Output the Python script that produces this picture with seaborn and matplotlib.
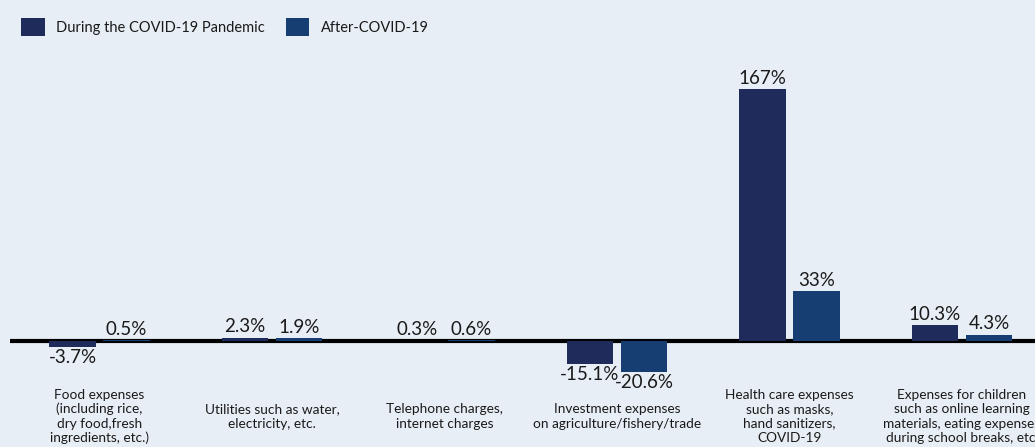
import matplotlib
matplotlib.use("Agg")
import matplotlib.pyplot as plt
from matplotlib.patches import Patch
from matplotlib.transforms import blended_transform_factory
import seaborn as sns
import pandas as pd

# Expense categories (x axis)
categories = [
    "Food expenses\n(including rice,\ndry food,fresh\ningredients, etc.)",
    "Utilities such as water,\nelectricity, etc.",
    "Telephone charges,\ninternet charges",
    "Investment expenses\non agriculture/fishery/trade",
    "Health care expenses\nsuch as masks,\nhand sanitizers,\nCOVID-19",
    "Expenses for children\nsuch as online learning\nmaterials, eating expenses\nduring school breaks, etc.",
]
# Percentage change in expenses
during_covid = [-3.7, 2.3, 0.3, -15.1, 167, 10.3]
after_covid = [0.5, 1.9, 0.6, -20.6, 33, 4.3]
series_names = ["During the COVID-19 Pandemic", "After-COVID-19"]

BG = "#e8eef6"
COLORS = ["#1e2b5b", "#173e72"]
TEXT = "#1a1a1a"

df = pd.DataFrame({
    "category": categories * 2,
    "value": during_covid + after_covid,
    "period": [series_names[0]] * len(categories) + [series_names[1]] * len(categories),
})

sns.set_theme(style="white")
plt.rcParams["font.family"] = ["Lato", "DejaVu Sans"]

fig = plt.figure(figsize=(10.35, 4.47), dpi=100, facecolor=BG)
W, H = 1035, 447
zero_px, top_px = 341, 89
ymin, ymax = -25, 180
ppu = (zero_px - top_px) / max(during_covid)
ax_top = zero_px - ymax * ppu
ax_bot = zero_px - ymin * ppu
ax = fig.add_axes([10 / W, 1 - ax_bot / H, 1 - 10 / W, (ax_bot - ax_top) / H])
ax.set_facecolor(BG)

# zero baseline sits beneath the bars
ax.axhline(0, color="black", linewidth=3.0, zorder=0.5)

sns.barplot(data=df, x="category", y="value", hue="period",
            order=categories, hue_order=series_names, palette=COLORS,
            saturation=1, width=0.626, gap=0.13, legend=False,
            edgecolor="none", linewidth=0, ax=ax)
for p in ax.patches:
    p.set_zorder(2)

ax.set_xlim(-89.5 / 172.5, (W - 10 - 89.5) / 172.5)
ax.set_ylim(ymin, ymax)

for cont, vals in zip(ax.containers, [during_covid, after_covid]):
    ax.bar_label(cont, labels=[f"{v:g}%" for v in vals], padding=1.5,
                 fontsize=13.5, color=TEXT)

for s in ax.spines.values():
    s.set_visible(False)
ax.set_xticks([])
ax.set_yticks([])
ax.set_xlabel("")
ax.set_ylabel("")

trans = blended_transform_factory(ax.transData, fig.transFigure)
for i, lab in enumerate(categories):
    ax.text(i, 1 - 416.5 / H, lab, transform=trans, ha="center", va="center",
            fontsize=9.8, linespacing=1.22, color=TEXT, clip_on=False)

handles = [Patch(facecolor=c, edgecolor="none") for c in COLORS]
fig.legend(handles, series_names, loc="upper left", bbox_to_anchor=(0.008, 0.99),
           ncol=2, frameon=False, fontsize=10.5, handlelength=1.6, handleheight=1.6,
           handletextpad=0.8, columnspacing=1.4, labelcolor=TEXT)

fig.savefig("out.png", dpi=100, facecolor=BG)
